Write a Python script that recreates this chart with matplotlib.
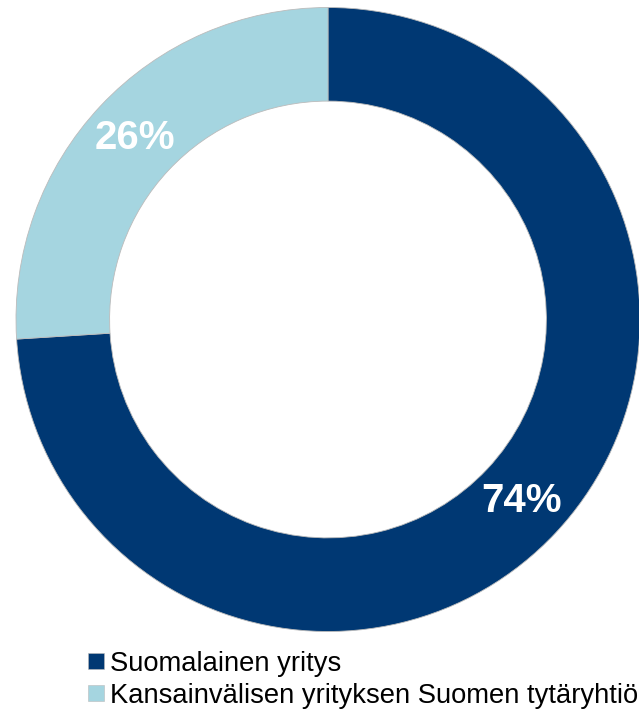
import matplotlib
matplotlib.use("Agg")
import matplotlib.pyplot as plt
from matplotlib.lines import Line2D

plt.rcParams['font.family'] = ['Liberation Sans', 'DejaVu Sans']

categories = ["Suomalainen yritys", "Kansainvälisen yrityksen Suomen tytäryhtiö"]
values = [74, 26]
labels = ["74%", "26%"]
colors = ["#003873", "#A5D5E0"]

W, H = 639, 714
fig = plt.figure(figsize=(W / 100, H / 100), dpi=100)
cx, cy, R = 328, 319.5, 312
ax = fig.add_axes([(cx - R) / W, (H - cy - R) / H, 2 * R / W, 2 * R / H])

wedges, texts = ax.pie(values, colors=colors, startangle=90, counterclock=False,
                       radius=1.0, labels=labels, labeldistance=0.85,
                       wedgeprops=dict(width=0.3, edgecolor="#BBBBBB", linewidth=0.6),
                       textprops=dict(color="white", fontsize=29, fontweight="bold",
                                      ha="center", va="center"))
ax.set_xlim(-1, 1)
ax.set_ylim(-1, 1)
ax.set_aspect("equal")
ax.axis("off")

handles = [Line2D([0], [0], marker="s", linestyle="none", markersize=11,
                  markerfacecolor=c, markeredgecolor="#BBBBBB", markeredgewidth=0.4)
           for c in colors]
fig.legend(handles, categories, loc="upper left", bbox_to_anchor=(88 / W, 1 - 651 / H),
           frameon=False, fontsize=19.7, handlelength=0.6, handletextpad=0.22,
           labelspacing=0.22, borderpad=0, borderaxespad=0)

fig.savefig("out.png", dpi=100)
